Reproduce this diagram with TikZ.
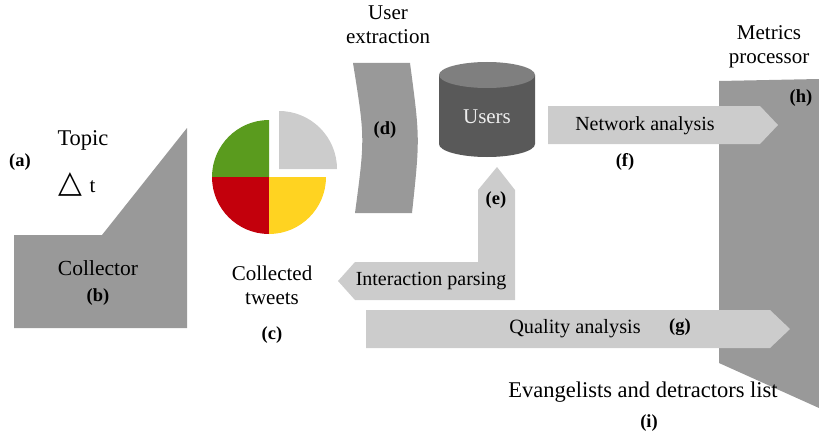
\documentclass[tikz,border=0pt]{standalone}
\usepackage{fontspec}
\setmainfont{Liberation Serif}
\newfontfamily\symfont{DejaVu Sans}
\definecolor{midgray}{HTML}{999999}
\definecolor{lightgray}{HTML}{CCCCCC}
\definecolor{cylbody}{HTML}{595959}
\definecolor{cyltop}{HTML}{7F7F7F}
\definecolor{piegreen}{HTML}{5A9B1E}
\definecolor{piered}{HTML}{C3000C}
\definecolor{pieyellow}{HTML}{FFD321}
\definecolor{piegray}{HTML}{CCCCCC}
\begin{document}
\begin{tikzpicture}[x=1pt,y=-1pt,
  txt/.style={font=\fontsize{21}{24}\selectfont, inner sep=0pt, align=center},
  arrtxt/.style={font=\fontsize{20}{24}\selectfont, inner sep=0pt},
  bigtxt/.style={font=\fontsize{22.5}{26}\selectfont, inner sep=0pt, align=center},
  lab/.style={font=\fontsize{18.5}{20}\selectfont\bfseries, inner sep=0pt},
  darkshape/.style={fill=midgray},
  lightarrow/.style={fill=lightgray}]
\useasboundingbox (0,0) rectangle (819,436);
% collector
\fill[darkshape] (14,235) -- (102,235) -- (187,128) -- (187,328) -- (14,328) -- cycle;
% pie
\fill[piegreen] (269,177) -- ++(180:57) arc[start angle=180,end angle=270,radius=57] -- cycle;
\fill[piered] (269,177) -- ++(90:57) arc[start angle=90,end angle=180,radius=57] -- cycle;
\fill[pieyellow] (269,177) -- ++(0:57) arc[start angle=0,end angle=90,radius=57] -- cycle;
\fill[piegray] (279,169) -- ++(270:58) arc[start angle=270,end angle=360,radius=58] -- cycle;
% user extraction shape
\fill[darkshape] (353,63) -- (410,63) .. controls (420,138) .. (412,213) -- (355,213) .. controls (365,138) .. (353,63) -- cycle;
% users cylinder
\fill[cylbody] (439,75) -- (439,144) arc[start angle=180,end angle=0,x radius=48,y radius=13] -- (535,75) -- cycle;
\fill[cyltop] (487,75) ellipse[x radius=48,y radius=13];
% interaction parsing arrow
\fill[lightarrow] (338,281) -- (355,262) -- (478,262) -- (478,190) -- (497,167) -- (515,190) -- (515,300) -- (355,300) -- cycle;
% metrics processor
\fill[darkshape] (719,81) -- (819,79) -- (819,408) -- (719,363) -- cycle;
% network analysis arrow
\fill[lightarrow] (548,106) -- (760,106) -- (778,125) -- (760,144) -- (548,144) -- cycle;
% quality analysis arrow
\fill[lightarrow] (366,310) -- (770,310) -- (790,329) -- (770,348) -- (366,348) -- cycle;
% texts
\node[bigtxt] (topic) at (83,140) {Topic};
\node[lab] (a) at (20,162) {(a)};
\node[inner sep=0pt, font=\symfont\fontsize{31}{31}\selectfont] (tri) at (70.5,184) {△};
\node[txt] (tlab) at (92.5,187) {t};
\node[txt, font=\fontsize{21.5}{24}\selectfont] (collector) at (98,268) {Collector};
\node[lab] (b) at (98,297) {(b)};
\node[txt] (tweets) at (272,285) {Collected\\tweets};
\node[lab] (c) at (272,335) {(c)};
\node[txt] (userex) at (388,24.5) {User\\extraction};
\node[lab] (d) at (385,130) {(d)};
\node[txt, text=white!93!black] (users) at (487,117) {Users};
\node[lab] (e) at (496,200) {(e)};
\node[arrtxt] (interaction) at (431,281) {Interaction parsing};
\node[arrtxt] (network) at (645,126) {Network analysis};
\node[lab] (f) at (625,162) {(f)};
\node[txt] (metrics) at (769,47) {Metrics\\processor};
\node[lab] (h) at (801,98) {(h)};
\node[arrtxt, font=\fontsize{20.3}{24}\selectfont] (quality) at (575,329) {Quality analysis};
\node[lab] (g) at (680,327) {(g)};
\node[bigtxt] (evang) at (643,392) {Evangelists and detractors list};
\node[lab] (i) at (649,423) {(i)};
\end{tikzpicture}
\end{document}
